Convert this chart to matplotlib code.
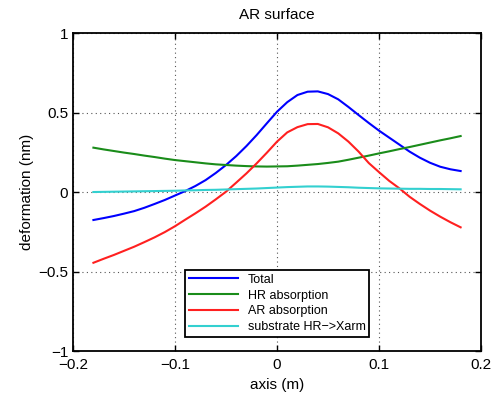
import numpy as np
import matplotlib
matplotlib.use("Agg")
import matplotlib.pyplot as plt

plt.rcParams['font.family'] = ['Liberation Sans', 'DejaVu Sans']

# sample positions along the axis (m), every 1 cm
x = np.linspace(-0.18, 0.18, 37)

# values (nm)
total = [-0.176, -0.164, -0.151, -0.136, -0.12, -0.099, -0.075, -0.05, -0.022,
         0.006, 0.038, 0.075, 0.12, 0.17, 0.226, 0.289, 0.358, 0.432, 0.505,
         0.565, 0.61, 0.631, 0.633, 0.616, 0.583, 0.535, 0.484, 0.434, 0.386,
         0.342, 0.298, 0.254, 0.216, 0.184, 0.159, 0.143, 0.132]
hr_abs = [0.279, 0.268, 0.258, 0.248, 0.239, 0.229, 0.22, 0.21, 0.201,
          0.194, 0.187, 0.18, 0.174, 0.17, 0.166, 0.163, 0.161, 0.16, 0.161,
          0.162, 0.166, 0.171, 0.176, 0.183, 0.191, 0.203, 0.216, 0.229, 0.243,
          0.256, 0.27, 0.283, 0.297, 0.311, 0.325, 0.338, 0.352]
ar_abs = [-0.445, -0.42, -0.396, -0.37, -0.344, -0.315, -0.285, -0.252, -0.215,
          -0.174, -0.134, -0.092, -0.046, 0.002, 0.059, 0.117, 0.18, 0.247, 0.317,
          0.375, 0.408, 0.427, 0.428, 0.407, 0.369, 0.317, 0.254, 0.182, 0.125,
          0.07, 0.023, -0.03, -0.075, -0.117, -0.155, -0.19, -0.222]
substrate = [0.0, 0.001, 0.002, 0.003, 0.004, 0.005, 0.006, 0.007, 0.008,
             0.01, 0.011, 0.013, 0.014, 0.016, 0.018, 0.02, 0.022, 0.025, 0.028,
             0.031, 0.033, 0.035, 0.035, 0.034, 0.032, 0.03, 0.027, 0.025, 0.023,
             0.022, 0.021, 0.02, 0.02, 0.019, 0.019, 0.018, 0.017]

labels = ["Total", "HR absorption", "AR absorption", "substrate HR\u2212>Xarm"]
colors = ["#0000ff", "#1a8c1a", "#ff2020", "#33d0d0"]

fig = plt.figure(figsize=[4.91, 3.96], dpi=100)
ax = fig.add_axes([0.1487, 0.1136, 0.831, 0.803])

for y, lab, c in zip([total, hr_abs, ar_abs, substrate], labels, colors):
    ax.plot(x, y, color=c, lw=1.5, label=lab)

ax.set_xlim(-0.2, 0.2)
ax.set_ylim(-1, 1)
ax.set_xticks([-0.2, -0.1, 0, 0.1, 0.2])
ax.set_xticklabels(["\u22120.2", "\u22120.1", "0", "0.1", "0.2"])
ax.set_yticks([-1, -0.5, 0, 0.5, 1])
ax.set_yticklabels(["\u22121", "\u22120.5", "0", "0.5", "1"])
ax.tick_params(direction='in', top=True, right=True, labelsize=11, length=4, width=1)
ax.tick_params(axis='x', pad=5)
ax.grid(True, linestyle=(0, (1, 3)), color='#555555', lw=0.8)
for s in ax.spines.values():
    s.set_linewidth(1.3)

ax.set_title("AR surface", fontsize=11, pad=10)
ax.set_xlabel("axis (m)", fontsize=11, labelpad=4)
ax.set_ylabel("deformation (nm)", fontsize=11, labelpad=3)

leg = ax.legend(loc='lower center', bbox_to_anchor=(0.501, 0.025), fontsize=9,
                handlelength=3.9, labelspacing=0.3, borderpad=0.3,
                fancybox=False, framealpha=1, edgecolor='black')
leg.get_frame().set_linewidth(1.3)

plt.savefig('out.png', dpi=100)
